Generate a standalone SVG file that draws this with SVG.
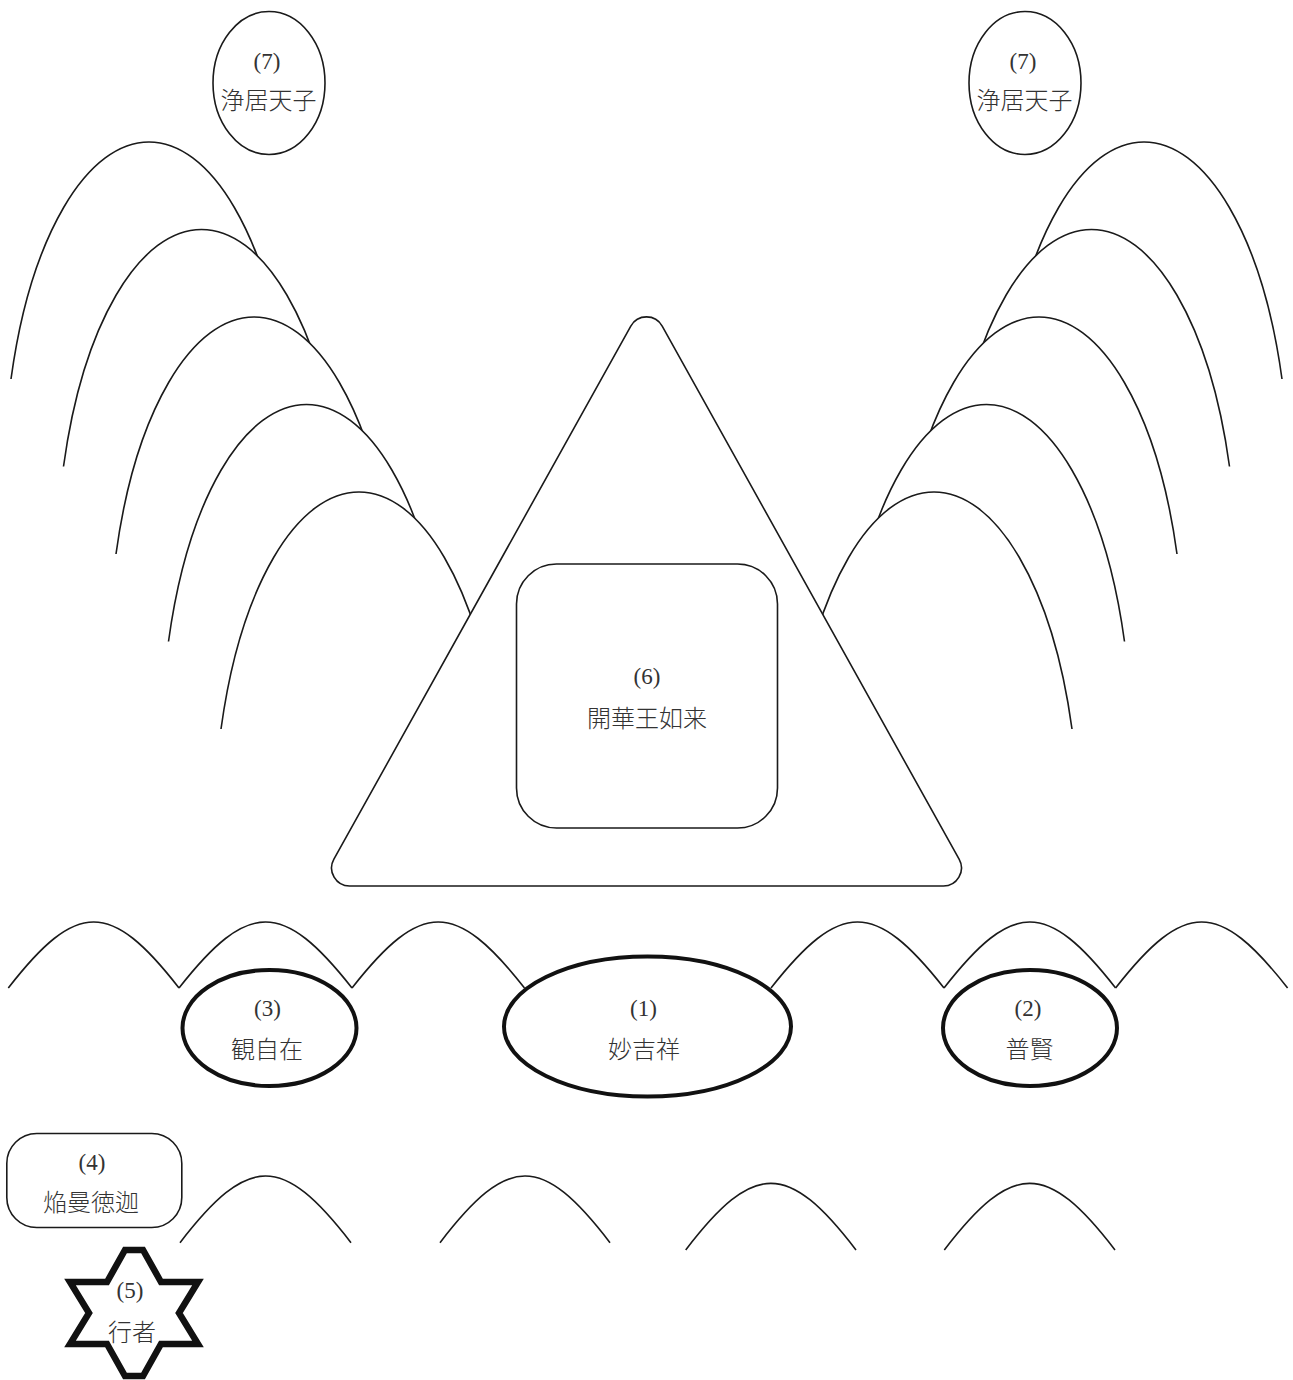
<svg xmlns="http://www.w3.org/2000/svg" width="1293" height="1380" viewBox="0 0 1293 1380">
<defs>
<style>
.ln{fill:none;stroke:#1a1a1a;stroke-width:1.6}
.mt{fill:#fff;stroke:#1a1a1a;stroke-width:1.6}
.sh{fill:#fff;stroke:#1a1a1a;stroke-width:1.6}
.bold{fill:#fff;stroke:#111;stroke-width:4}
.star{fill:#fff;stroke:#111;stroke-width:6.5;stroke-linejoin:miter}
.num{font-family:"Liberation Serif","Noto Sans CJK JP",serif;font-size:23px;fill:#333;text-anchor:middle}
.jp{font-family:"Noto Sans CJK JP","Noto Sans CJK SC",sans-serif;font-size:24px;font-weight:300;fill:#333;text-anchor:middle}
</style>
<path id="arch" d="M11,379 A145,342 0 0 1 287,379"/>
</defs>
<rect width="1293" height="1380" fill="#fff"/>

<g id="arcs">
  <g id="left-mountains" class="mt">
    <use href="#arch"/>
    <use href="#arch" transform="translate(52.5,87.5)"/>
    <use href="#arch" transform="translate(105,175)"/>
    <use href="#arch" transform="translate(157.5,262.5)"/>
    <use href="#arch" transform="translate(210,350)"/>
  </g>
  <g id="right-mountains" class="mt" transform="matrix(-1,0,0,1,1293,0)">
    <use href="#arch"/>
    <use href="#arch" transform="translate(52.5,87.5)"/>
    <use href="#arch" transform="translate(105,175)"/>
    <use href="#arch" transform="translate(157.5,262.5)"/>
    <use href="#arch" transform="translate(210,350)"/>
  </g>
  <g id="middle-row" class="ln">
    <path d="M8.3,988 C76.6,900 110.7,900 179,988"/>
    <path d="M179,988 C248.2,900 282.8,900 352,988"/>
    <path d="M352,988 C421,900 455.5,900 524.5,988"/>
    <path d="M771,988 C840.2,900 874.8,900 944,988"/>
    <path d="M944,988 C1012.6,900 1047,900 1115.6,988"/>
    <path d="M1115.6,988 C1184.4,900 1218.8,900 1287.6,988"/>
  </g>
  <g id="bottom-row" class="ln">
    <path d="M180,1242.7 C248.4,1153.8 282.6,1153.8 351,1242.7"/>
    <path d="M440,1242.7 C508,1153.8 542,1153.8 610,1242.7"/>
    <path d="M685.7,1250 C753.8,1161.1 787.9,1161.1 856,1250"/>
    <path d="M944.3,1250 C1012.6,1161.1 1046.7,1161.1 1115,1250"/>
  </g>
</g>

<g id="node-7-left">
  <ellipse class="sh" cx="269" cy="83" rx="56" ry="71.5"/>
  <text class="num" x="267" y="69">(7)</text>
  <text class="jp" x="268.5" y="109">浄居天子</text>
</g>
<g id="node-7-right">
  <ellipse class="sh" cx="1025" cy="83" rx="56" ry="71.5"/>
  <text class="num" x="1023" y="69">(7)</text>
  <text class="jp" x="1024.5" y="109">浄居天子</text>
</g>

<g id="triangle">
  <path class="sh" d="M630.8,326.1 A18,18 0 0 1 662.2,326.1 L959.1,859.2 A18,18 0 0 1 943.3,886 L349.7,886 A18,18 0 0 1 333.9,859.2 Z"/>
</g>
<g id="node-6">
  <rect class="sh" x="516.5" y="564" width="261" height="264" rx="40" ry="40"/>
  <text class="num" x="647" y="684">(6)</text>
  <text class="jp" x="647" y="727">開華王如来</text>
</g>

<g id="node-3">
  <ellipse class="bold" cx="269.5" cy="1028" rx="87" ry="58"/>
  <text class="num" x="267.5" y="1016">(3)</text>
  <text class="jp" x="267" y="1058">観自在</text>
</g>
<g id="node-1">
  <ellipse class="bold" cx="647.5" cy="1026.5" rx="143.5" ry="70"/>
  <text class="num" x="643.5" y="1016">(1)</text>
  <text class="jp" x="644" y="1058">妙吉祥</text>
</g>
<g id="node-2">
  <ellipse class="bold" cx="1030" cy="1028" rx="87" ry="58"/>
  <text class="num" x="1028" y="1016">(2)</text>
  <text class="jp" x="1029.5" y="1058">普賢</text>
</g>

<g id="node-4">
  <rect class="sh" x="6.8" y="1133.5" width="175" height="94" rx="30" ry="30"/>
  <text class="num" x="92" y="1170">(4)</text>
  <text class="jp" x="91" y="1211">焔曼徳迦</text>
</g>

<g id="node-5">
  <path class="star" d="M125,1250 L143,1250 L161,1282 L198,1282 L179,1313 L198,1344 L161,1344 L143,1376 L125,1376 L107,1344 L70,1344 L89,1313 L70,1282 L107,1282 Z"/>
  <text class="num" x="130" y="1298">(5)</text>
  <text class="jp" x="132" y="1341">行者</text>
</g>
</svg>
